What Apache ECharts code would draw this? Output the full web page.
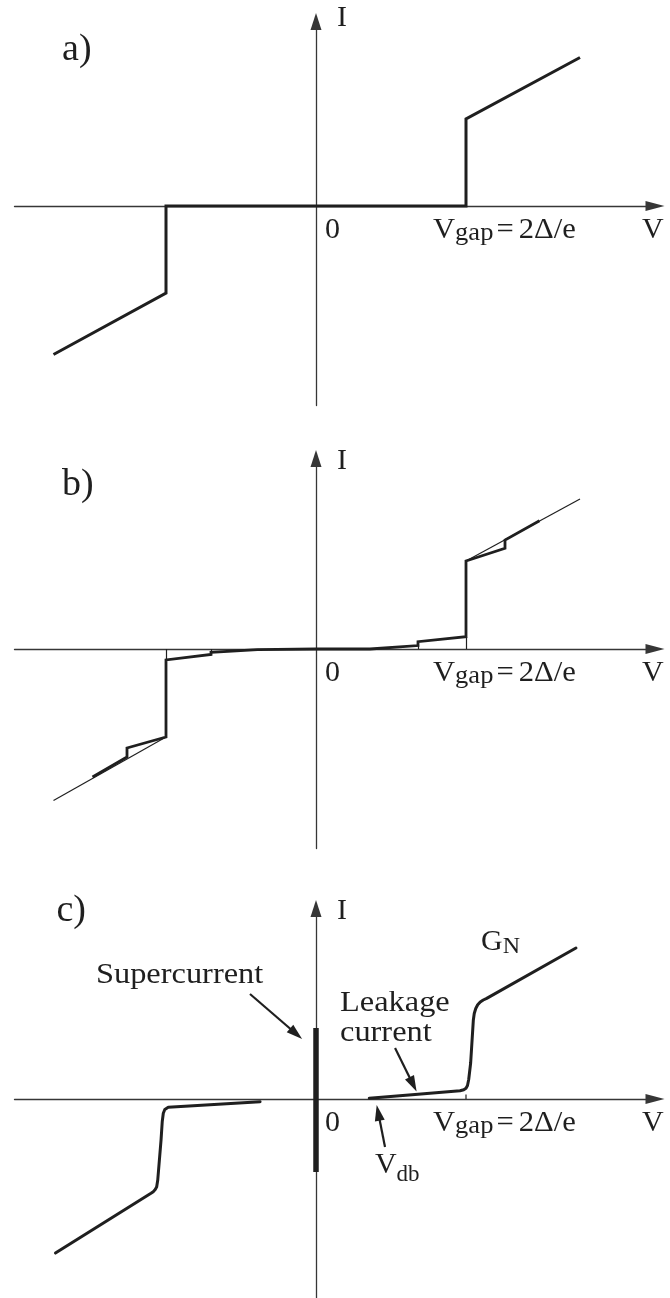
<!DOCTYPE html>
<html><head><meta charset="utf-8">
<script src="https://cdn.jsdelivr.net/npm/echarts@6/dist/echarts.min.js"></script>
<style>html,body{margin:0;padding:0;background:#fff}#c{width:670px;height:1298px}</style>
</head><body><div id="c"></div>
<script>
// ---------- DATA (V in units of V_gap, I in units of G_N * V_gap) ----------
// Panel (a): ideal SIS junction
const aV = [-1.75, -1.0, -1.0, 1.0, 1.0, 1.76];
const aI = [-0.99, -0.58, 0, 0, 0.58, 0.99];

// Panel (b): normal-state ohmic line (thin)
const bNormLeftV = [-1.75, -1.0];
const bNormLeftI = [-1.01, -0.587];
const bNormRightV = [1.0, 1.76];
const bNormRightI = [0.587, 1.0];
// Panel (b): sub-gap staircase (thick)
const bV = [-1.49, -1.26, -1.26, -1.0, -1.0, -0.70, -0.70, -0.39, -0.39, 0, 0.36, 0.68, 0.68, 1.0, 1.0, 1.26, 1.26, 1.49];
const bI = [-0.853, -0.72, -0.66, -0.587, -0.073, -0.036, -0.022, -0.004, 0.004, 0, 0, 0.023, 0.049, 0.082, 0.587, 0.671, 0.727, 0.855];
// Panel (b): thin drop lines at the steps
const bMarkV = [-1.0, -0.70, 0.68, 1.0];
const bMarkI = [-0.073, -0.036, 0.023, 0.082];

// Panel (c): real junction
const cLeftV = [-1.737, -1.10, -1.085, -1.072, -1.062, -1.055, -1.033, -1.025, -1.018, -1.008, -0.995, -0.985, -0.373];
const cLeftI = [-1.027, -0.628, -0.618, -0.604, -0.585, -0.54, -0.273, -0.15, -0.095, -0.07, -0.06, -0.055, -0.018];
const cRightV = [0.355, 0.66, 0.96, 0.985, 1.0, 1.01, 1.018, 1.031, 1.049, 1.055, 1.065, 1.078, 1.095, 1.115, 1.138, 1.733];
const cRightI = [0.005, 0.03, 0.055, 0.062, 0.072, 0.09, 0.13, 0.24, 0.527, 0.57, 0.603, 0.628, 0.647, 0.66, 0.671, 1.007];
const cSuperV = [0, 0];
const cSuperI = [-0.487, 0.473];
const cTickV = [1, 1];
const cTickI = [0, 0.03];
// annotation arrows in (c): [fromV, fromI, toV, toI]
const arrowSuper = [-0.44, 0.70, -0.133, 0.435];
const arrowLeak = [0.527, 0.34, 0.647, 0.097];
const arrowVdb = [0.46, -0.32, 0.415, -0.092];

// tick / axis labels
const panelLetters = ['a)', 'b)', 'c)'];
const axisNameI = 'I';
const axisNameV = 'V';
const zeroLabel = '0';

// ---------- LAYOUT ----------
const PX = 150;
const X_MIN = -2.01, X_MAX = 2.26, Y_MIN = -1.33;
const zeroY = [206, 649, 1099];
const yMaxs = [1.23, 1.27, 1.27];
const INK = '#1f1f1f', AXIS = '#363636';
const FONT = '"Liberation Serif","Times New Roman",serif';

const chart = echarts.init(document.getElementById('c'), null, {renderer: 'canvas', width: 670, height: 1298});

const pairs = (vs, is) => vs.map((v, k) => [v, is[k]]);
function lineSeries(g, vs, is, w, extra) {
  return Object.assign({
    type: 'line', xAxisIndex: g, yAxisIndex: g, data: pairs(vs, is),
    showSymbol: false, symbol: 'none', silent: true, z: 3, animation: false,
    lineStyle: {width: w, color: INK, cap: 'butt', join: 'miter'}
  }, extra || {});
}

const grids = zeroY.map((z, k) => ({
  left: 14.5, width: (X_MAX - X_MIN) * PX,
  top: z - yMaxs[k] * PX, height: (yMaxs[k] - Y_MIN) * PX,
  outerBoundsMode: 'none', containLabel: false
}));
const xAxes = [0, 1, 2].map(k => ({
  type: 'value', gridIndex: k, min: X_MIN, max: X_MAX,
  axisLine: {show: true, onZero: true, symbol: ['none', 'triangle'], symbolSize: [10, 19], lineStyle: {color: AXIS, width: 1.3}},
  axisTick: {show: false}, axisLabel: {show: false}, splitLine: {show: false}
}));
const yAxes = [0, 1, 2].map(k => ({
  type: 'value', gridIndex: k, min: Y_MIN, max: yMaxs[k],
  axisLine: {show: true, onZero: true, symbol: ['none', 'triangle'], symbolSize: [11, 17], lineStyle: {color: AXIS, width: 1.3}},
  axisTick: {show: false}, axisLabel: {show: false}, splitLine: {show: false}
}));

const arrowLines = [arrowSuper, arrowLeak, arrowVdb].map(a => ({coords: [[a[0], a[1]], [a[2], a[3]]]}));
const roundStyle = {lineStyle: {width: 3, color: INK, cap: 'round', join: 'round'}};

const series = [
  lineSeries(0, aV, aI, 3),
  lineSeries(1, bNormLeftV, bNormLeftI, 1.2),
  lineSeries(1, bNormRightV, bNormRightI, 1.2),
  lineSeries(1, bV, bI, 2.8),
  {
    type: 'lines', coordinateSystem: 'cartesian2d', xAxisIndex: 1, yAxisIndex: 1, silent: true, z: 3,
    data: bMarkV.map((v, k) => ({coords: [[v, 0], [v, bMarkI[k]]]})),
    lineStyle: {width: 1.2, color: INK, opacity: 1, curveness: 0}, symbol: 'none', animation: false
  },
  lineSeries(2, cLeftV, cLeftI, 3, roundStyle),
  lineSeries(2, cRightV, cRightI, 3, roundStyle),
  lineSeries(2, cSuperV, cSuperI, 5.5),
  lineSeries(2, cTickV, cTickI, 1.2),
  {
    type: 'lines', coordinateSystem: 'cartesian2d', xAxisIndex: 2, yAxisIndex: 2, silent: true, z: 4,
    data: arrowLines,
    lineStyle: {width: 2.2, color: INK, opacity: 1, curveness: 0},
    symbol: ['none', 'triangle'], symbolSize: [0, [10, 16]], animation: false
  }
];

chart.setOption({
  animation: false,
  backgroundColor: '#ffffff',
  grid: grids, xAxis: xAxes, yAxis: yAxes, series: series
});

// ---------- TEXT ----------
function anchor(p, v, i) { return chart.convertToPixel({gridIndex: p}, [v, i]); }
function plain(p, v, i, str, F, sx) {
  const pt = anchor(p, v, i);
  return {type: 'text', x: pt[0], y: pt[1] - 0.8375 * F, scaleX: sx || 1, silent: true, z: 10,
    style: {text: str, fontSize: F, fontFamily: FONT, fill: INK, align: 'left', verticalAlign: 'top'}};
}
function withSub(p, v, i, main, sub, tail, F, f, d, sx) {
  const pt = anchor(p, v, i);
  const padTop = 0.8375 * (F - f) + d;
  let txt = '{m|' + main + '}{s|' + sub + '}';
  if (tail) txt += '{e|=}{m|' + tail + '}';
  return {type: 'text', x: pt[0], y: pt[1] - 0.8375 * F, scaleX: sx || 1, silent: true, z: 10,
    style: {text: txt, align: 'left', verticalAlign: 'top',
      rich: {
        m: {fontSize: F, lineHeight: F, fontFamily: FONT, fill: INK, verticalAlign: 'top'},
        s: {fontSize: f, lineHeight: f, fontFamily: FONT, fill: INK, verticalAlign: 'top', padding: [padTop, 0, 0, 0]},
        e: {fontSize: F, lineHeight: F, fontFamily: FONT, fill: INK, verticalAlign: 'top', padding: [0, 5, 0, 3]}
      }}};
}

const letterBase = [0.953, 1.007, 1.167];
const letterLeft = [-1.693, -1.693, -1.73];
const els = [];
for (let p = 0; p < 3; p++) {
  els.push(plain(p, letterLeft[p], letterBase[p], panelLetters[p], 38));
  els.push(plain(p, 0.14, 1.187, axisNameI, 30));
  els.push(plain(p, 0.06, -0.227, zeroLabel, 30));
  els.push(withSub(p, 0.78, -0.227, 'V', 'gap', '2Δ/e', 30, 26, 2, 1.02));
  els.push(plain(p, 2.173, -0.227, axisNameV, 30));
}
els.push(plain(2, -1.467, 0.76, 'Supercurrent', 30, 1.08));
els.push(plain(2, 0.16, 0.573, 'Leakage', 30, 1.08));
els.push(plain(2, 0.16, 0.373, 'current', 30, 1.08));
els.push(withSub(2, 1.10, 0.98, 'G', 'N', null, 30, 24, 3, 1.0));
els.push(withSub(2, 0.393, -0.507, 'V', 'db', null, 30, 23, 8, 1.0));

chart.setOption({graphic: {elements: els}});
</script>
</body></html>
